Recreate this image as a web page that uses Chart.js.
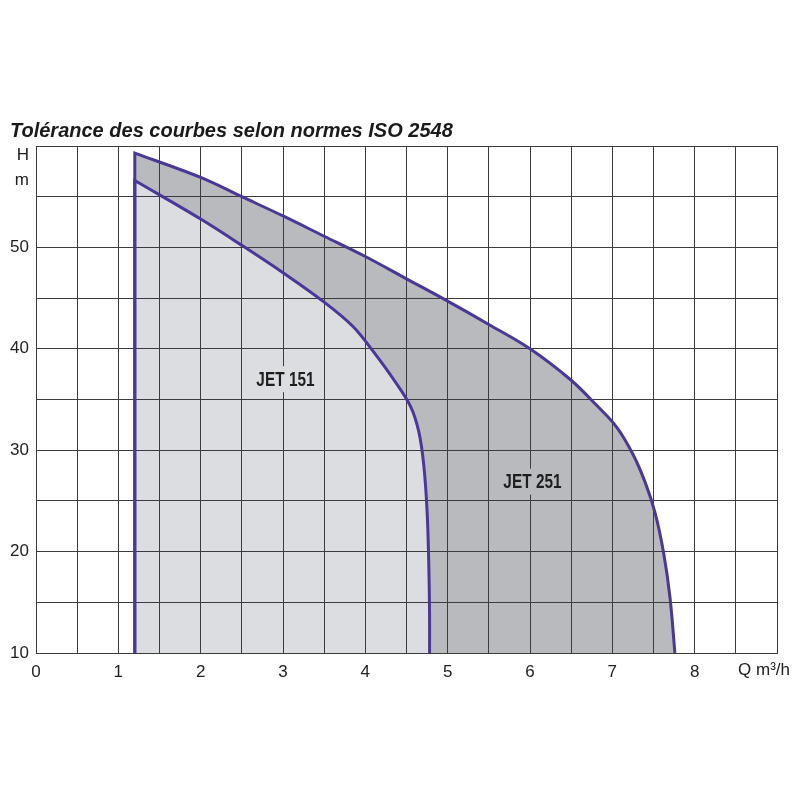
<!DOCTYPE html>
<html>
<head>
<meta charset="utf-8">
<script src="https://cdn.jsdelivr.net/npm/chart.js@4/dist/chart.umd.min.js"></script>
<style>
html,body{margin:0;padding:0;background:#fff;}
#wrap{width:800px;height:800px;position:relative;}
</style>
</head>
<body>
<div id="wrap"><canvas id="c" width="800" height="800"></canvas></div>
<script>
// Data (corner points repeated to keep sharp corners)
const titleText = "Tolérance des courbes selon normes ISO 2548";
const jet151Q = [1.2, 1.2, 1.2, 1.2, 2.0, 2.5, 3.0, 3.5, 3.85, 4.1, 4.35, 4.55, 4.65, 4.71, 4.75, 4.77, 4.78, 4.78];
const jet151H = [10, 10, 56.6, 56.6, 52.8, 50.2, 47.5, 44.6, 42.2, 39.7, 36.9, 34.3, 31.8, 28.5, 24, 19, 14, 10];
const jet251Q = [1.2, 1.2, 1.2, 1.2, 2.0, 2.5, 3.0, 3.5, 4.0, 4.5, 5.0, 5.5, 6.0, 6.5, 6.8, 7.05, 7.25, 7.4, 7.52, 7.62, 7.7, 7.76];
const jet251H = [10, 10, 59.3, 59.3, 56.9, 55.0, 53.1, 51.1, 49.1, 46.9, 44.7, 42.4, 40, 36.9, 34.5, 32.3, 29.6, 26.8, 23.8, 20, 15.5, 10];
const xTickLabels = [0, 1, 2, 3, 4, 5, 6, 7, 8];
const yTickLabels = [10, 20, 30, 40, 50];
const seriesNames = ["JET 151", "JET 251"];

const lineColor = '#4a3797';
const gridColor = '#3c3c3c';
const lightFill = '#dcdde0';
const darkFill = '#b9babe';

function pts(q, h){ return q.map((v,i)=>({x:v, y:h[i]})); }

const textPlugin = {
  id: 'texts',
  afterDraw(chart){
    const ctx = chart.ctx;
    const xs = chart.scales.x, ys = chart.scales.y;
    ctx.save();
    ctx.fillStyle = '#1a1a1a';
    ctx.font = 'italic bold 20px "Liberation Sans", Arial, sans-serif';
    ctx.textAlign = 'left';
    ctx.textBaseline = 'alphabetic';
    ctx.fillText(titleText, 10, 137);
    ctx.font = '17px "Liberation Sans", Arial, sans-serif';
    ctx.fillStyle = '#222';
    ctx.textAlign = 'right';
    ctx.textBaseline = 'middle';
    ctx.fillText('H', 29, 155);
    ctx.fillText('m', 29, 180);
    ctx.textAlign = 'center';
    ctx.fillText('Q m³/h', 764, 670);
    const labels = [
      {t: seriesNames[0], q: 3.03, h: 37.0, bg: lightFill},
      {t: seriesNames[1], q: 6.03, h: 26.9, bg: darkFill}
    ];
    ctx.font = 'bold 20px "Liberation Sans", Arial, sans-serif';
    const sx = 0.77;
    labels.forEach(l=>{
      const px = xs.getPixelForValue(l.q), py = ys.getPixelForValue(l.h);
      const w = ctx.measureText(l.t).width * sx;
      ctx.fillStyle = l.bg;
      ctx.fillRect(px - w/2 - 4, py - 13, w + 8, 26);
      ctx.save();
      ctx.translate(px, py + 1);
      ctx.scale(sx, 1);
      ctx.fillStyle = '#1e1e1e';
      ctx.fillText(l.t, 0, 0);
      ctx.restore();
    });
    ctx.restore();
  }
};

new Chart(document.getElementById('c'), {
  type: 'scatter',
  data: {
    datasets: [
      { label: seriesNames[0], data: pts(jet151Q, jet151H), showLine: true, borderColor: lineColor,
        borderWidth: 3, pointRadius: 0, tension: 0.35, fill: 'start', backgroundColor: lightFill },
      { label: seriesNames[1], data: pts(jet251Q, jet251H), showLine: true, borderColor: lineColor,
        borderWidth: 3, pointRadius: 0, tension: 0.35, fill: 'start', backgroundColor: darkFill }
    ]
  },
  options: {
    responsive: false,
    animation: false,
    layout: { padding: { top: 146, right: 23, bottom: 107, left: 0 } },
    plugins: {
      legend: { display: false },
      tooltip: { enabled: false },
      filler: { drawTime: 'beforeDraw' }
    },
    scales: {
      x: {
        type: 'linear', min: 0, max: 9,
        afterFit(s){ s.height = 40; },
        border: { display: true, color: gridColor, width: 1 },
        grid: { color: gridColor, lineWidth: 1, drawTicks: false },
        ticks: {
          stepSize: 0.5, padding: 9, color: '#222', autoSkip: false, maxRotation: 0,
          font: { family: '"Liberation Sans", Arial, sans-serif', size: 17 },
          callback(v){ return xTickLabels.includes(v) ? String(v) : ''; }
        }
      },
      y: {
        type: 'linear', min: 10, max: 60,
        afterFit(s){ s.width = 36; },
        border: { display: true, color: gridColor, width: 1 },
        grid: { color: gridColor, lineWidth: 1, drawTicks: false },
        ticks: {
          stepSize: 5, padding: 7, color: '#222', autoSkip: false,
          font: { family: '"Liberation Sans", Arial, sans-serif', size: 17 },
          callback(v){ return yTickLabels.includes(v) ? String(v) : ''; }
        }
      }
    }
  },
  plugins: [textPlugin]
});
</script>
</body>
</html>
